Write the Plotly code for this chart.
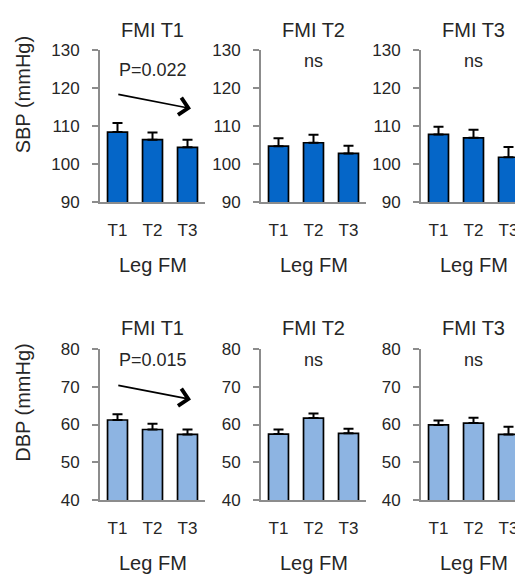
import plotly.graph_objects as go

# The page body has an 8px default margin; the figure is sized/positioned so
# that it lines up with the 523x582 window.
WIN_W, WIN_H = 523, 582
OFF = 8
W, H = WIN_W - OFF, WIN_H - OFF

categories = ["T1", "T2", "T3"]
panel_titles = ["FMI T1", "FMI T2", "FMI T3"]

sbp_t1 = [108.4, 106.4, 104.4]
sbp_t1_err = [2.4, 1.9, 2.0]
sbp_t2 = [104.7, 105.6, 102.8]
sbp_t2_err = [2.1, 2.1, 2.0]
sbp_t3 = [107.8, 106.9, 101.8]
sbp_t3_err = [2.0, 2.1, 2.7]

dbp_t1 = [61.2, 58.7, 57.4]
dbp_t1_err = [1.5, 1.5, 1.3]
dbp_t2 = [57.5, 61.7, 57.7]
dbp_t2_err = [1.2, 1.2, 1.2]
dbp_t3 = [59.9, 60.4, 57.4]
dbp_t3_err = [1.2, 1.4, 2.0]

sbp_labels = ["P=0.022", "ns", "ns"]
dbp_labels = ["P=0.015", "ns", "ns"]
sbp_label_y = [124.6, 127.0, 127.0]
dbp_label_y = [77.0, 77.0, 77.0]
sbp_ticks = [90, 100, 110, 120, 130]
dbp_ticks = [40, 50, 60, 70, 80]
# trend arrow: (tail y, tip y) in data units
sbp_arrow = (118.4, 114.6)
dbp_arrow = (70.4, 66.6)

TOP_COLOR = "#0566C8"
BOT_COLOR = "#8DB4E2"
AXIS_COLOR = "#8C8C8C"
TEXT_COLOR = "#262626"
FONT = "Liberation Sans, Arial, sans-serif"

def px_x(p):
    return (p - OFF) / W

def px_y(p):
    return 1 - (p - OFF) / H

# pixel layout (window coordinates)
x_left = [100, 261, 421]
x_width = 105
rows = [dict(top=42, bottom=199.5, ytitle_c=89),
        dict(top=351, bottom=508, ytitle_c=407)]

fig = go.Figure()

top_data = [(sbp_t1, sbp_t1_err), (sbp_t2, sbp_t2_err), (sbp_t3, sbp_t3_err)]
bot_data = [(dbp_t1, dbp_t1_err), (dbp_t2, dbp_t2_err), (dbp_t3, dbp_t3_err)]

annotations = []
layout_axes = {}
idx = 0
for r, (data, color, ticks, labels, label_y, arrow, ytitle) in enumerate([
        (top_data, TOP_COLOR, sbp_ticks, sbp_labels, sbp_label_y, sbp_arrow, "SBP (mmHg)"),
        (bot_data, BOT_COLOR, dbp_ticks, dbp_labels, dbp_label_y, dbp_arrow, "DBP (mmHg)")]):
    row = rows[r]
    for c in range(3):
        idx += 1
        xa = "x" if idx == 1 else f"x{idx}"
        ya = "y" if idx == 1 else f"y{idx}"
        vals, errs = data[c]
        fig.add_trace(go.Bar(
            x=categories, y=vals, xaxis=xa, yaxis=ya, width=0.57,
            marker=dict(color=color, line=dict(color="black", width=1.7)),
            error_y=dict(type="data", array=errs, arrayminus=[0] * 3,
                         symmetric=False, color="black", thickness=2, width=5),
            showlegend=False, hoverinfo="skip"))
        x0 = x_left[c]
        x1 = min(x0 + x_width, WIN_W)
        xrange_hi = -0.5 + (x1 - x0) / 35.0
        layout_axes["xaxis" + ("" if idx == 1 else str(idx))] = dict(
            domain=[px_x(x0), min(px_x(x1), 1.0)], anchor=ya,
            type="category", range=[-0.5, xrange_hi],
            showline=True, linecolor=AXIS_COLOR, linewidth=2,
            ticks="", showgrid=False, zeroline=False,
            tickfont=dict(family=FONT, size=17, color=TEXT_COLOR),
            ticklabelstandoff=11, fixedrange=True)
        layout_axes["yaxis" + ("" if idx == 1 else str(idx))] = dict(
            domain=[px_y(row["bottom"]), px_y(row["top"])], anchor=xa,
            range=[ticks[0], ticks[-1]], tickvals=ticks,
            showline=True, linecolor=AXIS_COLOR, linewidth=2,
            ticks="outside", ticklen=6, tickwidth=2, tickcolor=AXIS_COLOR,
            showgrid=False, zeroline=False,
            tickfont=dict(family=FONT, size=17, color=TEXT_COLOR),
            ticklabelstandoff=9, fixedrange=True)
        cx = px_x(x0 + 52.5)
        # panel title
        annotations.append(dict(
            text=panel_titles[c], xref="paper", yref="paper",
            x=cx, y=px_y(row["top"] - 21), xanchor="center", yanchor="middle",
            showarrow=False, font=dict(family=FONT, size=20, color=TEXT_COLOR)))
        # x title
        annotations.append(dict(
            text="Leg FM", xref="paper", yref="paper",
            x=cx, y=px_y(row["bottom"] + 65), xanchor="center", yanchor="middle",
            showarrow=False, font=dict(family=FONT, size=20, color=TEXT_COLOR)))
        # significance label
        annotations.append(dict(
            text=labels[c], xref=xa, yref=ya, x=1, y=label_y[c],
            xanchor="center", yanchor="middle", showarrow=False,
            font=dict(family=FONT, size=18, color=TEXT_COLOR)))
        if c == 0:
            # trend arrow
            annotations.append(dict(
                text="", xref=xa, yref=ya, axref=xa, ayref=ya,
                x=2.1, y=arrow[1],
                ax=-0.02, ay=arrow[0],
                showarrow=True, arrowhead=4, arrowsize=2.0, arrowwidth=1.7,
                arrowcolor="black", standoff=0, startstandoff=0))
    # y title
    annotations.append(dict(
        text=ytitle, xref="paper", yref="paper",
        x=px_x(23), y=px_y(row["ytitle_c"]), xanchor="center", yanchor="middle",
        textangle=-90, showarrow=False,
        font=dict(family=FONT, size=20, color=TEXT_COLOR)))

fig.update_layout(
    width=W, height=H,
    margin=dict(l=0, r=0, t=0, b=0),
    paper_bgcolor="white", plot_bgcolor="white",
    annotations=annotations,
    **layout_axes)

fig.write_html("out.html", config={"displayModeBar": False})
